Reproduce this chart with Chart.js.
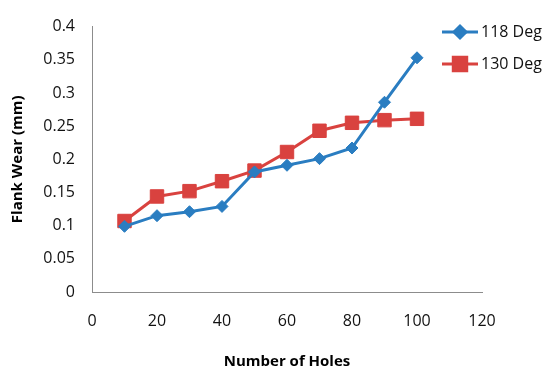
<!DOCTYPE html>
<html>
<head>
<meta charset="utf-8">
<script src="https://cdn.jsdelivr.net/npm/chart.js"></script>
<style>
  html, body { margin: 0; padding: 0; background: #fff; }
  #wrap { width: 550px; height: 371px; }
</style>
</head>
<body>
<div id="wrap"><canvas id="wearChart" width="550" height="371"></canvas></div>
<script>
// Data
const holes = [10, 20, 30, 40, 50, 60, 70, 80, 90, 100];
const wear118 = [0.099, 0.115, 0.121, 0.129, 0.181, 0.191, 0.201, 0.217, 0.286, 0.353];
const wear130 = [0.107, 0.144, 0.152, 0.167, 0.183, 0.211, 0.243, 0.255, 0.259, 0.261];
const seriesNames = ['118 Deg', '130 Deg'];
const xTicks = [0, 20, 40, 60, 80, 100, 120];
const yTicks = [0, 0.05, 0.1, 0.15, 0.2, 0.25, 0.3, 0.35, 0.4];

const blue = '#2a7dc1';
const red = '#d9423f';
const axisGrey = '#8c8c8c';
const fontFamily = '"Open Sans", sans-serif';

function toPoints(xs, ys) {
    return xs.map((x, i) => ({ x: x, y: ys[i] }));
}

// Legend drawn as line + marker, like the spreadsheet legend
const sideLegend = {
    id: 'sideLegend',
    afterDraw(chart) {
        const ctx = chart.ctx;
        ctx.save();
        chart.data.datasets.forEach((ds, i) => {
            const y = 32 + i * 32;
            ctx.strokeStyle = ds.borderColor;
            ctx.lineWidth = 3;
            ctx.beginPath();
            ctx.moveTo(442, y);
            ctx.lineTo(478, y);
            ctx.stroke();
            Chart.helpers.drawPoint(ctx, {
                pointStyle: ds.pointStyle,
                radius: ds.pointRadius,
                borderWidth: 1
            }, 460, y);
            ctx.fillStyle = ds.backgroundColor;
            ctx.strokeStyle = ds.borderColor;
            ctx.fill();
            ctx.fillStyle = '#111';
            ctx.font = '16px ' + fontFamily;
            ctx.textAlign = 'left';
            ctx.textBaseline = 'middle';
            ctx.fillText(ds.label, 481, y);
        });
        ctx.restore();
    }
};

const ctx = document.getElementById('wearChart').getContext('2d');
new Chart(ctx, {
    type: 'line',
    data: {
        datasets: [{
            label: seriesNames[0],
            data: toPoints(holes, wear118),
            borderColor: blue,
            backgroundColor: blue,
            borderWidth: 3,
            pointStyle: 'rectRot',
            pointRadius: 6,
            pointBorderWidth: 1,
            tension: 0
        }, {
            label: seriesNames[1],
            data: toPoints(holes, wear130),
            borderColor: red,
            backgroundColor: red,
            borderWidth: 3,
            pointStyle: 'rect',
            pointRadius: 9.5,
            pointBorderWidth: 1,
            tension: 0
        }]
    },
    options: {
        responsive: false,
        animation: false,
        layout: { padding: { left: 0, right: 68, top: 15, bottom: 0 } },
        plugins: {
            legend: { display: false },
            tooltip: { enabled: false }
        },
        scales: {
            x: {
                type: 'linear',
                min: 0,
                max: 120,
                afterBuildTicks: (scale) => { scale.ticks = xTicks.map(v => ({ value: v })); },
                afterFit: (scale) => { scale.height = 79; },
                grid: { display: false, drawTicks: false },
                border: { display: true, color: axisGrey, width: 1 },
                ticks: {
                    color: '#111',
                    padding: 20,
                    font: { family: fontFamily, size: 16 }
                },
                title: {
                    display: true,
                    text: 'Number of Holes',
                    color: '#000',
                    padding: { top: 11, bottom: 0 },
                    font: { family: fontFamily, size: 15, weight: 'bold' }
                }
            },
            y: {
                min: 0,
                max: 0.4,
                afterBuildTicks: (scale) => { scale.ticks = yTicks.map(v => ({ value: v })); },
                afterFit: (scale) => { scale.width = 92; },
                grid: { display: false, drawTicks: false },
                border: { display: true, color: axisGrey, width: 1 },
                ticks: {
                    color: '#111',
                    padding: 17,
                    font: { family: fontFamily, size: 16 },
                    callback: (v) => String(+Number(v).toFixed(2))
                },
                title: {
                    display: true,
                    text: 'Flank Wear (mm)',
                    color: '#000',
                    padding: { top: 9, bottom: 0 },
                    font: { family: fontFamily, size: 15, weight: 'bold' }
                }
            }
        }
    },
    plugins: [sideLegend]
});
</script>
</body>
</html>
